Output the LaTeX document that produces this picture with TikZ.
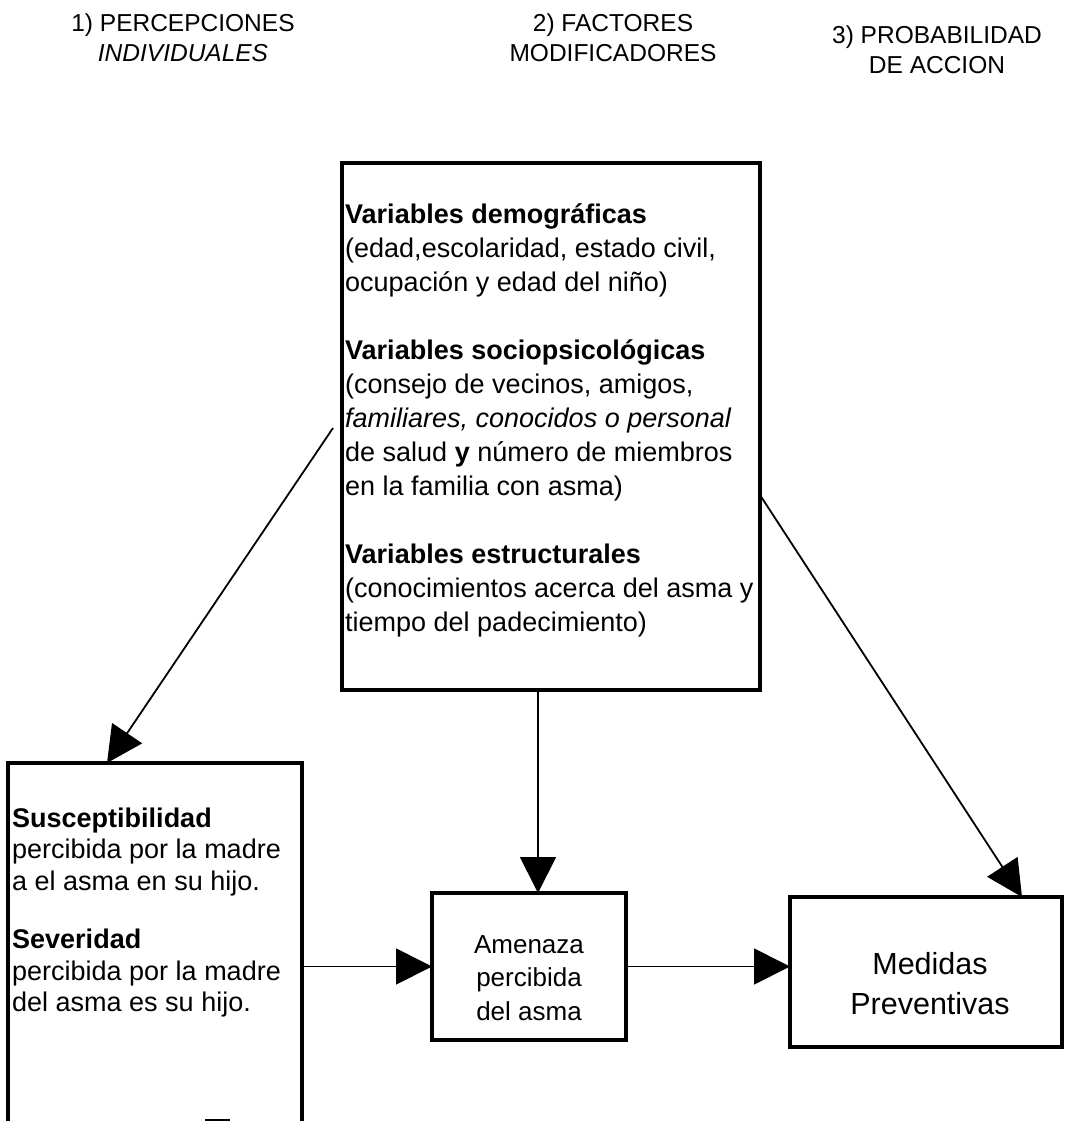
\documentclass[tikz,border=0pt]{standalone}
\usepackage{fontspec}
\setmainfont{Liberation Sans}
\usetikzlibrary{arrows.meta}
\begin{document}
\begin{tikzpicture}[x=1pt,y=-1pt,
 boxline/.style={line width=4pt, line join=miter},
 frame/.style={draw, boxline, inner sep=0pt, outer sep=0pt},
 conn/.style={line width=1.8pt, -{Triangle[length=36pt,width=36pt]}},
 hdr/.style={font=\fontsize{24.5}{30}\selectfont, align=center, anchor=north, inner sep=0pt},
 body/.style={font=\fontsize{27}{34}\selectfont, align=left, anchor=north west, inner sep=0pt},
 ctext/.style={align=center, anchor=north, inner sep=0pt}]
\useasboundingbox[fill=white] (0,0) rectangle (1065,1121);
% headers
\node[hdr] (h1) at (183,11) {\rule{0pt}{20pt}1) PERCEPCIONES\\\textit{INDIVIDUALES}};
\node[hdr] (h2) at (613,11) {\rule{0pt}{20pt}2) FACTORES\\MODIFICADORES};
\node[hdr] (h3) at (937,23) {\rule{0pt}{20pt}3) PROBABILIDAD\\DE ACCION};
% boxes
\node[frame, minimum width=418pt, minimum height=527pt] (fm) at (551,426) {};
\node[inner sep=0pt, outer sep=0pt, minimum width=294pt, minimum height=370pt] (sp) at (155,948) {};
\draw[boxline] (sp.south west) -- (sp.north west) -- (sp.north east) -- (sp.south east);
\draw[line width=2pt] (205,1119.5) -- (230,1119.5);
\node[frame, minimum width=194pt, minimum height=147pt] (am) at (529,966.5) {};
\node[frame, minimum width=272pt, minimum height=150pt] (md) at (926,972) {};
% texts
\node[body] (fmt) at (345,199) {\rule{0pt}{24pt}\textbf{Variables demográficas}\\
(edad,escolaridad, estado civil,\\
ocupación y edad del niño)\\[34pt]
\textbf{Variables sociopsicológicas}\\
(consejo de vecinos, amigos,\\
\textit{familiares, conocidos o personal}\\
de salud \textbf{y} número de miembros\\
en la familia con asma)\\[34pt]
\textbf{Variables estructurales}\\
(conocimientos acerca del asma y\\
tiempo del padecimiento)};
\node[body, font=\fontsize{27}{31.5}\selectfont] (spt) at (12,803) {\rule{0pt}{24pt}\textbf{Susceptibilidad}\\
percibida por la madre\\
a el asma en su hijo.\\[27pt]
\textbf{Severidad}\\
percibida por la madre\\
del asma es su hijo.};
\node[ctext, font=\fontsize{26}{33.5}\selectfont] (amt) at (529,931) {\rule{0pt}{22pt}Amenaza\\percibida\\del asma};
\node[ctext, font=\fontsize{30.5}{40}\selectfont] (mdt) at (930,949) {\rule{0pt}{25pt}Medidas\\Preventivas};
% connectors
\coordinate (l0) at (333,428);
\coordinate (l1) at (107,763);
\coordinate (r0) at (760,495);
\coordinate (r1) at (1022,897);
\coordinate (vx) at (538,0);
\draw[conn] (l0) -- (l1);
\draw[conn] (r0) -- (r1);
\draw[conn] (fm.south -| vx) -- (am.north -| vx);
\draw[conn] (am.west -| sp.east) -- (am.west);
\draw[conn] (am.east) -- (am.east -| md.west);
\end{tikzpicture}
\end{document}
